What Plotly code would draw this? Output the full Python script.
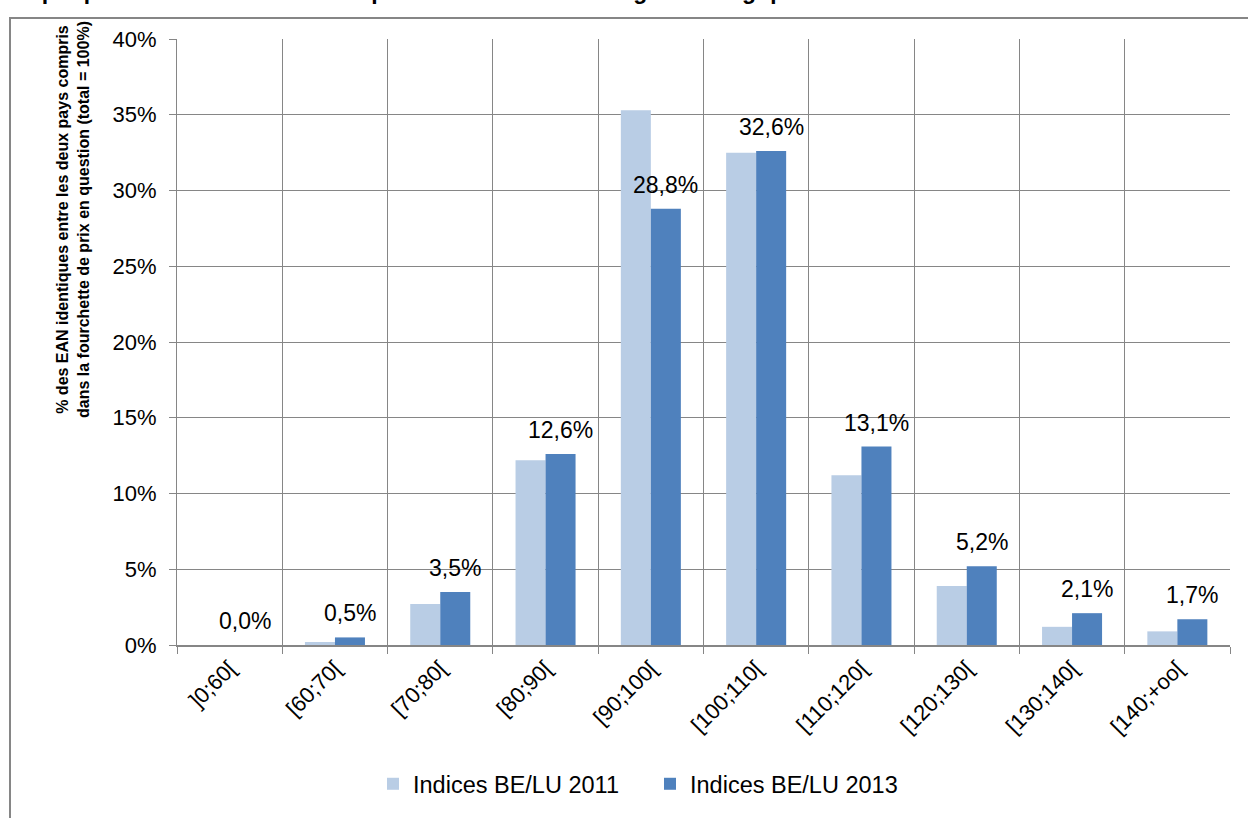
import plotly.graph_objects as go

# Price-index brackets (BE/LU) and share of identical EANs per bracket, in %
categories = ["]0;60[", "[60;70[", "[70;80[", "[80;90[", "[90;100[",
              "[100;110[", "[110;120[", "[120;130[", "[130;140[", "[140;+oo["]
values_2011 = [0.0, 0.2, 2.7, 12.2, 35.3, 32.5, 11.2, 3.9, 1.2, 0.9]
values_2013 = [0.0, 0.5, 3.5, 12.6, 28.8, 32.6, 13.1, 5.2, 2.1, 1.7]
y_ticks = [0, 5, 10, 15, 20, 25, 30, 35, 40]
y_tick_labels = [f"{v}%" for v in y_ticks]

FONT = "Liberation Sans, Arial, sans-serif"
GRID = "#868686"

W, H = 1248, 818
L, R, T, B = 177, 18, 39, 173
PW, PH = W - L - R, H - T - B


def px_x(px):
    return (px - L) / PW


def px_y(py):
    return 1 - (py - T) / PH


fig = go.Figure()
fig.add_trace(go.Bar(name="Indices BE/LU 2011", x=categories, y=values_2011,
                     marker=dict(color="#B9CDE5", line=dict(width=0))))
fig.add_trace(go.Bar(name="Indices BE/LU 2013", x=categories, y=values_2013,
                     marker=dict(color="#4F81BD", line=dict(width=0))))

# Value labels above the 2013 bars, French decimal comma
for cat, v in zip(categories, values_2013):
    fig.add_annotation(x=cat, y=v, xref="x", yref="y",
                       text=f"{v:.1f}".replace(".", ",") + "%",
                       showarrow=False, xshift=15, yshift=9, yanchor="bottom",
                       font=dict(family=FONT, size=23, color="#000000"))

# Y axis title (two lines, bold)
fig.add_annotation(x=px_x(73), y=px_y(220), xref="paper", yref="paper",
                   text="<b>% des EAN identiques entre les deux pays compris<br>"
                        "dans la fourchette de prix en question (total = 100%)</b>",
                   textangle=-90, showarrow=False, xanchor="center", yanchor="middle",
                   font=dict(family=FONT, size=16, color="#000000"))

# Chart heading along the top edge
fig.add_annotation(x=px_x(0), y=px_y(6), xref="paper", yref="paper",
                   text="<b>Graphique 3-15 : Distribution des prix entre le Luxembourg et la Belgique</b>",
                   showarrow=False, xanchor="left", yanchor="bottom",
                   font=dict(family=FONT, size=23, color="#000000"))

# Outer chart frame
fig.add_shape(type="rect", xref="paper", yref="paper",
              x0=px_x(10), x1=px_x(1270), y0=px_y(840), y1=px_y(18),
              line=dict(color=GRID, width=2), fillcolor="rgba(0,0,0,0)", layer="below")

fig.update_layout(
    width=W, height=H,
    margin=dict(l=L, r=R, t=T, b=B, pad=0),
    paper_bgcolor="white", plot_bgcolor="white",
    barmode="group", bargap=0.43, bargroupgap=0,
    font=dict(family=FONT, size=22, color="#000000"),
    showlegend=True,
    legend=dict(orientation="h", x=px_x(650), xanchor="center", y=px_y(784), yanchor="middle",
                xref="paper", yref="paper",
                font=dict(family=FONT, size=23.5, color="#000000"),
                itemwidth=30, entrywidth=232, entrywidthmode="pixels",
                tracegroupgap=0, bgcolor="rgba(0,0,0,0)"),
)

fig.update_xaxes(type="category", tickson="boundaries", tickangle=-45,
                 showgrid=True, gridcolor=GRID, gridwidth=1,
                 showline=True, linecolor=GRID, linewidth=2, mirror=False,
                 ticks="outside", ticklen=7, tickcolor=GRID, tickwidth=1,
                 tickfont=dict(family=FONT, size=22, color="#000000"))
fig.update_yaxes(range=[0, 40], tickmode="array", tickvals=y_ticks, ticktext=y_tick_labels,
                 showgrid=True, gridcolor=GRID, gridwidth=1, zeroline=False,
                 showline=True, linecolor=GRID, linewidth=1,
                 ticks="outside", ticklen=7, tickcolor=GRID, tickwidth=1,
                 ticklabelstandoff=8,
                 tickfont=dict(family=FONT, size=22, color="#000000"))

fig.write_html("out.html")
